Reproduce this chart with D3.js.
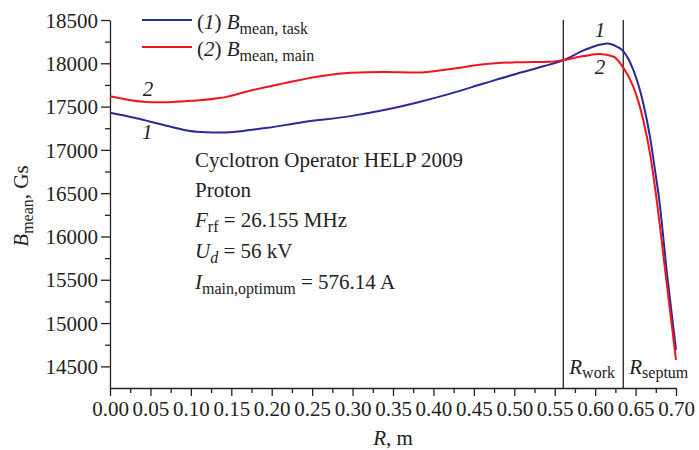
<!DOCTYPE html>
<html>
<head>
<meta charset="utf-8">
<script src="https://cdn.jsdelivr.net/npm/d3@7"></script>
<style>
  body { margin: 0; background: #fff; }
  svg text { font-family: "Liberation Serif", "Times New Roman", serif; fill: #222; }
  .axis path, .axis line { stroke: #222; stroke-width: 1.3; }
</style>
</head>
<body>
<svg id="chart" width="699" height="450"></svg>
<script>
/* global d3 */

// curve (1): B mean, task
var rTask = [0, 0.03, 0.05, 0.075, 0.099, 0.12, 0.132, 0.153, 0.173, 0.195, 0.236, 0.2975, 0.339, 0.38, 0.421,
  0.462, 0.503, 0.536, 0.561, 0.586, 0.603, 0.615, 0.626, 0.634, 0.6472, 0.6595, 0.6678, 0.674, 0.6793, 0.6888, 0.70];
var bTask = [17430, 17372, 17326, 17268, 17218, 17203, 17200, 17207, 17230, 17255, 17317, 17390, 17460, 17548, 17650,
  17766, 17880, 17965, 18038, 18150, 18208, 18228, 18196, 18148, 17923, 17538, 17152, 16768, 16421, 15578, 14689];

// curve (2): B mean, main
var rMain = [0, 0.041, 0.059, 0.07, 0.096, 0.111, 0.133, 0.144, 0.173, 0.215, 0.256, 0.2975, 0.339, 0.38, 0.421,
  0.462, 0.503, 0.544, 0.561, 0.586, 0.606, 0.623, 0.634, 0.6472, 0.6595, 0.6678, 0.6761, 0.687, 0.70];
var bMain = [17620, 17556, 17549, 17550, 17564, 17572, 17595, 17612, 17683, 17768, 17845, 17891, 17899, 17893, 17934,
  17988, 18011, 18018, 18038, 18084, 18108, 18076, 17961, 17730, 17345, 16961, 16421, 15578, 14574];

var rWork = 0.5606;
var rSeptum = 0.6348;

var xTicks = d3.range(0, 0.7001, 0.05);
var xMinor = d3.range(0.025, 0.7, 0.05);
var yTicks = d3.range(14500, 18501, 500);
var yMinor = d3.range(14750, 18300, 500);

var infoLines = ['Cyclotron Operator HELP 2009', 'Proton'];

var svg = d3.select('#chart');
var x = d3.scaleLinear().domain([0, 0.7]).range([110, 676]);
var y = d3.scaleLinear().domain([14250, 18500]).range([388, 20]);
var fmt = d3.format('.2f');

// minor ticks first, then the labelled ones on top
svg.append('g').attr('class', 'axis')
  .attr('transform', `translate(0,${y(14250)})`)
  .call(d3.axisBottom(x).tickValues(xMinor).tickSize(5).tickFormat(''))
  .call(g => g.select('.domain').remove());
svg.append('g').attr('class', 'axis')
  .attr('transform', `translate(${x(0)},0)`)
  .call(d3.axisLeft(y).tickValues(yMinor).tickSize(5).tickFormat(''))
  .call(g => g.select('.domain').remove());

var xAxis = svg.append('g').attr('class', 'axis')
  .attr('transform', `translate(0,${y(14250)})`)
  .call(d3.axisBottom(x).tickValues(xTicks).tickSize(8).tickSizeOuter(0).tickPadding(4).tickFormat(fmt));
xAxis.selectAll('text').style('font-size', '21px').attr('dy', '0.75em');

var yAxis = svg.append('g').attr('class', 'axis')
  .attr('transform', `translate(${x(0)},0)`)
  .call(d3.axisLeft(y).tickValues(yTicks).tickSize(9).tickSizeOuter(0).tickPadding(3).tickFormat(d3.format('d')));
yAxis.selectAll('text').style('font-size', '21px').attr('dy', '0.34em');

// R work / R septum markers
svg.selectAll('line.marker')
  .data([rWork, rSeptum]).enter()
  .append('line').attr('class', 'marker')
  .attr('x1', d => x(d)).attr('x2', d => x(d))
  .attr('y1', y(18500)).attr('y2', y(14250))
  .attr('stroke', '#222').attr('stroke-width', 1.3);

var line = d3.line().curve(d3.curveMonotoneX)
  .x(d => x(d[0])).y(d => y(d[1]));

svg.append('path')
  .datum(d3.zip(rTask, bTask))
  .attr('d', line)
  .attr('fill', 'none').attr('stroke', '#2a2a96').attr('stroke-width', 2);
svg.append('path')
  .datum(d3.zip(rMain, bMain))
  .attr('d', line)
  .attr('fill', 'none').attr('stroke', '#f0141e').attr('stroke-width', 2);

// curve numbers
var nums = [
  { t: '2', r: 0.047, b: 17622 },
  { t: '1', r: 0.046, b: 17126 },
  { t: '1', r: 0.606, b: 18304 },
  { t: '2', r: 0.606, b: 17876 }
];
svg.selectAll('text.num')
  .data(nums).enter()
  .append('text').attr('class', 'num')
  .attr('x', d => x(d.r)).attr('y', d => y(d.b))
  .attr('text-anchor', 'middle')
  .style('font-size', '21px').style('font-style', 'italic')
  .text(d => d.t);

// legend
var legend = [
  { n: '1', sub: 'mean, task', color: '#2a2a96' },
  { n: '2', sub: 'mean, main', color: '#f0141e' }
];
var lg = svg.selectAll('g.legend')
  .data(legend).enter()
  .append('g').attr('class', 'legend')
  .attr('transform', (d, i) => `translate(142,${20 + i * 27})`);
lg.append('line')
  .attr('x1', 0).attr('x2', 50)
  .attr('stroke', d => d.color).attr('stroke-width', 2);
var lt = lg.append('text')
  .attr('x', 55).attr('y', 9)
  .style('font-size', '21px');
lt.append('tspan').text('(');
lt.append('tspan').style('font-style', 'italic').text(d => d.n);
lt.append('tspan').text(') ');
lt.append('tspan').style('font-style', 'italic').text('B');
lt.append('tspan').attr('dy', 5).style('font-size', '16px').text(d => d.sub);

// info block
var info = svg.append('g').attr('transform', 'translate(195,0)').style('font-size', '21px');
info.selectAll('text.info')
  .data(infoLines).enter()
  .append('text').attr('class', 'info')
  .attr('y', (d, i) => 167 + i * 30)
  .text(d => d);

var subs = [
  { v: 'F', s: 'rf', sItalic: false, rest: ' = 26.155 MHz' },
  { v: 'U', s: 'd', sItalic: true, rest: ' = 56 kV' },
  { v: 'I', s: 'main,optimum', sItalic: false, rest: ' = 576.14 A' }
];
var st = info.selectAll('text.sub')
  .data(subs).enter()
  .append('text').attr('class', 'sub')
  .attr('y', (d, i) => 227 + i * 31);
st.append('tspan').style('font-style', 'italic').text(d => d.v);
st.append('tspan').attr('dy', 5).style('font-size', '16px')
  .style('font-style', d => d.sItalic ? 'italic' : 'normal')
  .text(d => d.s);
st.append('tspan').attr('dy', -5).text(d => d.rest);

// R labels at the bottom
var rLabels = [
  { r: rWork, s: 'work' },
  { r: rSeptum, s: 'septum' }
];
var rt = svg.selectAll('text.rlab')
  .data(rLabels).enter()
  .append('text').attr('class', 'rlab')
  .attr('x', d => x(d.r) + 6).attr('y', 374)
  .style('font-size', '21px');
rt.append('tspan').style('font-style', 'italic').text('R');
rt.append('tspan').attr('dy', 4).style('font-size', '16px').text(d => d.s);

// axis titles
var yt = svg.append('text')
  .attr('transform', 'translate(28,206) rotate(-90)')
  .attr('text-anchor', 'middle')
  .style('font-size', '21px');
yt.append('tspan').style('font-style', 'italic').text('B');
yt.append('tspan').attr('dy', 5).style('font-size', '16px').text('mean');
yt.append('tspan').attr('dy', -5).text(', Gs');

var xt = svg.append('text')
  .attr('x', (x(0) + x(0.7)) / 2).attr('y', 445)
  .attr('text-anchor', 'middle')
  .style('font-size', '21px');
xt.append('tspan').style('font-style', 'italic').text('R');
xt.append('tspan').text(', m');
</script>
</body>
</html>
